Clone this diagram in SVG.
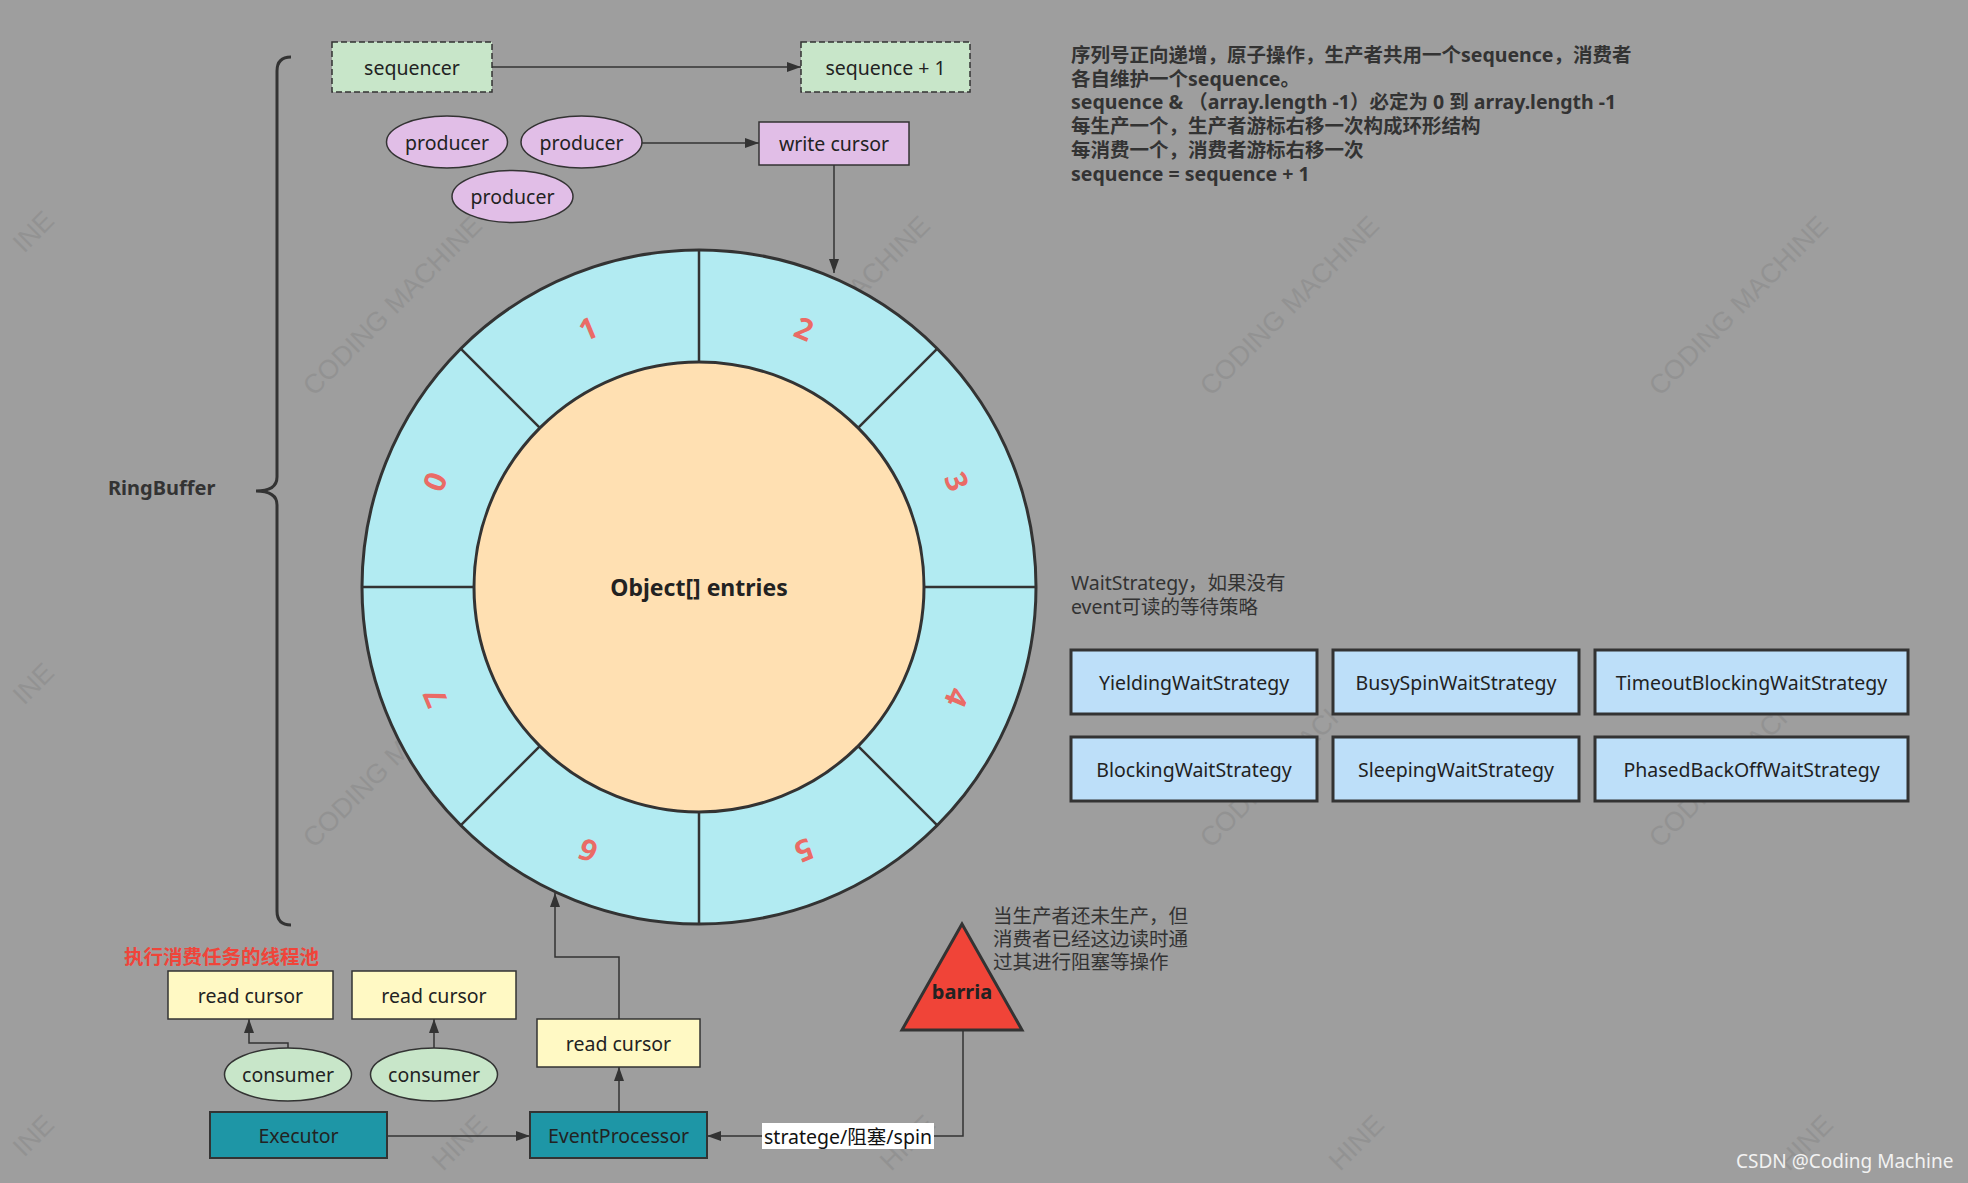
<svg xmlns="http://www.w3.org/2000/svg" width="1968" height="1183" viewBox="0 0 1968 1183">
<style>
.t{font-family:"Noto Sans","Noto Sans CJK SC",sans-serif;font-size:19.5px;fill:#222;text-anchor:middle;dominant-baseline:central}
.l{font-family:"Noto Sans","Noto Sans CJK SC",sans-serif;font-size:19.5px;fill:#333;dominant-baseline:central}
.b{font-weight:bold}
.wm{font-family:"Liberation Sans",sans-serif;font-size:27px;fill:#000;opacity:0.07}
.num{font-family:"Noto Sans",sans-serif;font-size:30px;font-weight:bold;fill:#ea6b66;text-anchor:middle;dominant-baseline:central}
.conn{fill:none;stroke:#333;stroke-width:1.5;marker-end:url(#arr)}
.bx{stroke:#333;stroke-width:1.5}
.ws{fill:#bddff9;stroke:#333;stroke-width:3}
.div{stroke:#333;stroke-width:2.5}
</style>
<defs>
<marker id="arr" markerUnits="userSpaceOnUse" markerWidth="15" markerHeight="10" refX="14" refY="5" orient="auto">
<path d="M0,0 L14,5 L0,10 z" fill="#333"/>
</marker>
</defs>
<rect width="1968" height="1183" fill="#9e9e9e"/>
<g id="watermark">
<text class="wm" transform="translate(24,254) rotate(-45)">INE</text>
<text class="wm" transform="translate(314,397) rotate(-45)">CODING  MACHINE</text>
<text class="wm" transform="translate(762,397) rotate(-45)">CODING  MACHINE</text>
<text class="wm" transform="translate(1211,397) rotate(-45)">CODING  MACHINE</text>
<text class="wm" transform="translate(1660,397) rotate(-45)">CODING  MACHINE</text>
<text class="wm" transform="translate(24,706) rotate(-45)">INE</text>
<text class="wm" transform="translate(314,849) rotate(-45)">CODING  MACHINE</text>
<text class="wm" transform="translate(762,849) rotate(-45)">CODING  MACHINE</text>
<text class="wm" transform="translate(1211,849) rotate(-45)">CODING  MACHINE</text>
<text class="wm" transform="translate(1660,849) rotate(-45)">CODING  MACHINE</text>
<text class="wm" transform="translate(24,1158) rotate(-45)">INE</text>
<text class="wm" transform="translate(443,1172) rotate(-45)">HINE</text>
<text class="wm" transform="translate(891,1172) rotate(-45)">HINE</text>
<text class="wm" transform="translate(1340,1172) rotate(-45)">HINE</text>
<text class="wm" transform="translate(1789,1172) rotate(-45)">HINE</text>
</g>

<g id="ringbuffer-brace">
<path d="M291,57 Q277,57 277,71 L277,477 Q277,491 256,491 Q277,491 277,505 L277,911 Q277,925 291,925" fill="none" stroke="#333" stroke-width="3"/>
<text class="l b" x="108" y="487" style="font-size:20px">RingBuffer</text>
</g>

<g id="connectors">
<path class="conn" d="M492,67 H801"/>
<path class="conn" d="M642,143 H759"/>
<path class="conn" d="M834,165 V273"/>
<path class="conn" d="M619,1019 V957 H555 V893"/>
<path class="conn" d="M288,1048 V1043 H249 V1019"/>
<path class="conn" d="M434,1048 V1019"/>
<path class="conn" d="M387,1136 H530"/>
<path class="conn" d="M619,1112 V1067"/>
<path class="conn" d="M963,1030 V1136 H707"/>
<rect x="762" y="1123" width="172" height="26" fill="#fff"/>
<text class="t" x="848" y="1136" style="fill:#111">stratege/阻塞/spin</text>
</g>

<g id="ring">
<circle cx="699" cy="587" r="337" fill="#b2ebf2" stroke="#333" stroke-width="3"/>
<line class="div" x1="924" y1="587" x2="1036" y2="587"/>
<line class="div" x1="474" y1="587" x2="362" y2="587"/>
<line class="div" x1="699" y1="812" x2="699" y2="924"/>
<line class="div" x1="699" y1="362" x2="699" y2="250"/>
<line class="div" x1="858.1" y1="746.1" x2="937.3" y2="825.3"/>
<line class="div" x1="539.9" y1="746.1" x2="460.7" y2="825.3"/>
<line class="div" x1="539.9" y1="427.9" x2="460.7" y2="348.7"/>
<line class="div" x1="858.1" y1="427.9" x2="937.3" y2="348.7"/>
<circle cx="699" cy="587" r="225" fill="#ffe0b2" stroke="#333" stroke-width="3"/>
<text class="num" transform="translate(804.3,328.1) rotate(22.5)">2</text>
<text class="num" transform="translate(957.5,481.3) rotate(67.5)">3</text>
<text class="num" transform="translate(957.5,697.9) rotate(112.5)">4</text>
<text class="num" transform="translate(804.3,851.1) rotate(157.5)">5</text>
<text class="num" transform="translate(587.7,851.1) rotate(202.5)">6</text>
<text class="num" transform="translate(434.5,697.9) rotate(247.5)">7</text>
<text class="num" transform="translate(434.5,481.3) rotate(292.5)">0</text>
<text class="num" transform="translate(587.7,328.1) rotate(337.5)">1</text>
<text class="t b" x="699" y="587" style="font-size:23px">Object[] entries</text>
</g>

<g id="sequencer">
<rect x="332" y="42" width="160" height="50" fill="#c8e6c9" stroke="#333" stroke-width="1.5" stroke-dasharray="6,3"/>
<text class="t" x="412" y="67">sequencer</text>
</g>
<g id="sequence-plus-1">
<rect x="801" y="42" width="169" height="50" fill="#c8e6c9" stroke="#333" stroke-width="1.5" stroke-dasharray="6,3"/>
<text class="t" x="885.5" y="67">sequence + 1</text>
</g>
<g id="producer-1">
<ellipse class="bx" cx="447" cy="142" rx="60.5" ry="26" fill="#e1bee7"/>
<text class="t" x="447" y="142">producer</text>
</g>
<g id="producer-2">
<ellipse class="bx" cx="581.5" cy="142" rx="60.5" ry="26" fill="#e1bee7"/>
<text class="t" x="581.5" y="142">producer</text>
</g>
<g id="producer-3">
<ellipse class="bx" cx="512.5" cy="196.5" rx="60.5" ry="26" fill="#e1bee7"/>
<text class="t" x="512.5" y="196.5">producer</text>
</g>
<g id="write-cursor">
<rect class="bx" x="759" y="122" width="150" height="43" fill="#e1bee7"/>
<text class="t" x="834" y="143.5">write cursor</text>
</g>

<g id="notes">
<text class="l b" x="1071" y="54">序列号正向递增，原子操作，生产者共用一个sequence，消费者</text>
<text class="l b" x="1071" y="78">各自维护一个sequence。</text>
<text class="l b" x="1071" y="101.7">sequence &amp; （array.length -1）必定为 0 到 array.length -1</text>
<text class="l b" x="1071" y="125.5">每生产一个，生产者游标右移一次构成环形结构</text>
<text class="l b" x="1071" y="149.4">每消费一个，消费者游标右移一次</text>
<text class="l b" x="1071" y="173.2">sequence = sequence + 1</text>
</g>

<g id="waitstrategy-note">
<text class="l" x="1071" y="582">WaitStrategy，如果没有</text>
<text class="l" x="1071" y="606">event可读的等待策略</text>
</g>
<g id="yielding"><rect class="ws" x="1071" y="650" width="246" height="64"/><text class="t" x="1194" y="682">YieldingWaitStrategy</text></g>
<g id="busyspin"><rect class="ws" x="1333" y="650" width="246" height="64"/><text class="t" x="1456" y="682">BusySpinWaitStrategy</text></g>
<g id="timeoutblocking"><rect class="ws" x="1595" y="650" width="313" height="64"/><text class="t" x="1751.5" y="682">TimeoutBlockingWaitStrategy</text></g>
<g id="blocking"><rect class="ws" x="1071" y="737" width="246" height="64"/><text class="t" x="1194" y="769">BlockingWaitStrategy</text></g>
<g id="sleeping"><rect class="ws" x="1333" y="737" width="246" height="64"/><text class="t" x="1456" y="769">SleepingWaitStrategy</text></g>
<g id="phasedbackoff"><rect class="ws" x="1595" y="737" width="313" height="64"/><text class="t" x="1751.5" y="769">PhasedBackOffWaitStrategy</text></g>

<g id="pool-title">
<text class="l b" x="124" y="956.5" style="fill:#f0443a">执行消费任务的线程池</text>
</g>
<g id="read-cursor-1">
<rect class="bx" x="168" y="971" width="165" height="48" fill="#fff9c4"/>
<text class="t" x="250.5" y="995">read cursor</text>
</g>
<g id="read-cursor-2">
<rect class="bx" x="352" y="971" width="164" height="48" fill="#fff9c4"/>
<text class="t" x="434" y="995">read cursor</text>
</g>
<g id="read-cursor-3">
<rect class="bx" x="537" y="1019" width="163" height="48" fill="#fff9c4"/>
<text class="t" x="618.5" y="1043">read cursor</text>
</g>
<g id="consumer-1">
<ellipse class="bx" cx="288" cy="1074.5" rx="63.5" ry="26.5" fill="#c8e6c9"/>
<text class="t" x="288" y="1074.5">consumer</text>
</g>
<g id="consumer-2">
<ellipse class="bx" cx="434" cy="1074.5" rx="63.5" ry="26.5" fill="#c8e6c9"/>
<text class="t" x="434" y="1074.5">consumer</text>
</g>
<g id="executor">
<rect x="210" y="1112" width="177" height="46" fill="#1e96a6" stroke="#333" stroke-width="2"/>
<text class="t" x="298.5" y="1135">Executor</text>
</g>
<g id="eventprocessor">
<rect x="530" y="1112" width="177" height="46" fill="#1e96a6" stroke="#333" stroke-width="2"/>
<text class="t" x="618.5" y="1135">EventProcessor</text>
</g>
<g id="barria">
<polygon points="962,924 902,1030 1022,1030" fill="#f04438" stroke="#333" stroke-width="3" stroke-linejoin="miter"/>
<text class="t b" x="962" y="991" style="font-size:20px">barria</text>
</g>
<g id="barria-note">
<text class="l" x="993" y="915">当生产者还未生产，但</text>
<text class="l" x="993" y="938.3">消费者已经这边读时通</text>
<text class="l" x="993" y="961.7">过其进行阻塞等操作</text>
</g>
<text class="l" x="1736" y="1161" style="fill:#f2f2f2;font-size:19px">CSDN @Coding Machine</text>
</svg>
